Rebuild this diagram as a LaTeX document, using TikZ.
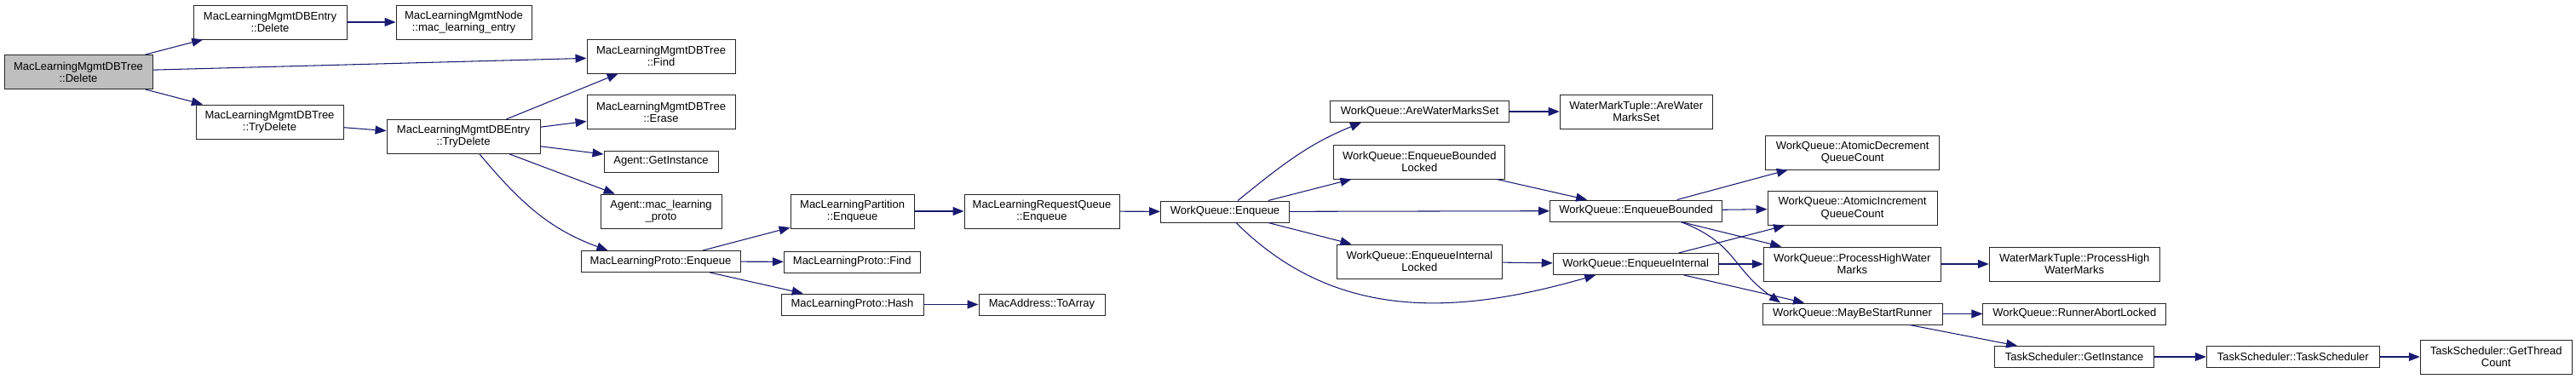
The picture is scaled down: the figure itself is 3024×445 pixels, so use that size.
\documentclass[tikz,border=0pt]{standalone}
\usepackage{fontspec}
\setmainfont{Liberation Sans}
\usepackage{xcolor}
\usepackage{tikz}
\usetikzlibrary{arrows.meta,calc}
\definecolor{dxblue}{HTML}{191970}
\definecolor{dxgrey}{HTML}{BFBFBF}
\tikzset{
  fn/.style={draw=black!85,line width=0.55pt,fill=white,align=center,inner sep=1pt,
            minimum height=0.5cm,font=\fontsize{7.4}{8}\selectfont},
  fn2/.style={fn,minimum height=0.8cm},
  fnroot/.style={fn2,fill=dxgrey},
  wd/.style={minimum width=#1*0.02cm},
  call/.style={-{Triangle[length=0.26cm,width=0.2cm]},line width=0.6pt,dxblue},
}

\begin{document}
\begin{tikzpicture}[x=0.02cm,y=-0.02cm]
  \useasboundingbox (0,0) rectangle (3024,445);
  \node[fnroot,wd=174] (root) at (92,84.5) {MacLearningMgmtDBTree\\::Delete};
  \node[fn2,wd=180] (entdel) at (317,26) {MacLearningMgmtDBEntry\\::Delete};
  \node[fn2,wd=173] (trydel) at (316.5,143) {MacLearningMgmtDBTree\\::TryDelete};
  \node[fn2,wd=159] (nodeentry) at (544.5,26) {MacLearningMgmtNode\\::mac\_learning\_entry};
  \node[fn2,wd=180] (entrytry) at (544,160.5) {MacLearningMgmtDBEntry\\::TryDelete};
  \node[fn2,wd=174] (treefind) at (776,66) {MacLearningMgmtDBTree\\::Find};
  \node[fn2,wd=174] (treeerase) at (776,131.5) {MacLearningMgmtDBTree\\::Erase};
  \node[fn,wd=134] (agentinst) at (776,189.5) {Agent::GetInstance};
  \node[fn2,wd=142] (agentproto) at (776,248) {Agent::mac\_learning\\\_proto};
  \node[fn,wd=187] (protoenq) at (775.5,307) {MacLearningProto::Enqueue};
  \node[fn2,wd=145] (partenq) at (1000.6,248) {MacLearningPartition\\::Enqueue};
  \node[fn,wd=160] (protofind) at (1000.3,307.5) {MacLearningProto::Find};
  \node[fn,wd=167] (protohash) at (1000.5,357.5) {MacLearningProto::Hash};
  \node[fn2,wd=182] (reqenq) at (1223,248) {MacLearningRequestQueue\\::Enqueue};
  \node[fn,wd=148] (toarray) at (1223,357.5) {MacAddress::ToArray};
  \node[fn,wd=151] (wqenq) at (1438,248.5) {WorkQueue::Enqueue};
  \node[fn,wd=210] (wqarewm) at (1666.6,131) {WorkQueue::AreWaterMarksSet};
  \node[fn2,wd=201] (wqebl) at (1666.4,190) {WorkQueue::EnqueueBounded\\Locked};
  \node[fn2,wd=194] (wqeil) at (1666.4,307) {WorkQueue::EnqueueInternal\\Locked};
  \node[fn2,wd=179] (wmtare) at (1920.7,131) {WaterMarkTuple::AreWater\\MarksSet};
  \node[fn,wd=202] (wqeb) at (1920.5,247.5) {WorkQueue::EnqueueBounded};
  \node[fn,wd=194] (wqei) at (1920.2,310) {WorkQueue::EnqueueInternal};
  \node[fn2,wd=204] (wqadec) at (2174.7,179) {WorkQueue::AtomicDecrement\\QueueCount};
  \node[fn2,wd=199] (wqainc) at (2174.5,244.5) {WorkQueue::AtomicIncrement\\QueueCount};
  \node[fn2,wd=208] (wqphwm) at (2174.3,310) {WorkQueue::ProcessHighWater\\Marks};
  \node[fn,wd=211] (wqmsr) at (2174.5,368.5) {WorkQueue::MayBeStartRunner};
  \node[fn2,wd=200] (wmtphwm) at (2435.2,310) {WaterMarkTuple::ProcessHigh\\WaterMarks};
  \node[fn,wd=215] (wqral) at (2435.4,368.5) {WorkQueue::RunnerAbortLocked};
  \node[fn,wd=187] (tsinst) at (2435.1,419) {TaskScheduler::GetInstance};
  \node[fn,wd=203] (tsts) at (2691.8,419) {TaskScheduler::TaskScheduler};
  \node[fn2,wd=178] (tsgtc) at (2930.2,419) {TaskScheduler::GetThread\\Count};

  \draw[call] (root) -- (entdel);
  \draw[call] (root) -- (treefind);
  \draw[call] (root) -- (trydel);
  \draw[call] (entdel) -- (nodeentry);
  \draw[call] (trydel) -- (entrytry);
  \draw[call] (entrytry) -- (treefind);
  \draw[call] (entrytry) -- (treeerase);
  \draw[call] (entrytry) -- (agentinst);
  \draw[call] (entrytry) -- (agentproto);
  \draw[call] ($(entrytry.south)+(19,0)$) to[out=-50,in=160]
        ($(protoenq.north)+(-62,0)$);
  \draw[call] (protoenq) -- (partenq);
  \draw[call] (protoenq) -- (protofind);
  \draw[call] (protoenq) -- (protohash);
  \draw[call] (partenq) -- (reqenq);
  \draw[call] (reqenq) -- (wqenq);
  \draw[call] (protohash) -- (toarray);
  \draw[call] ($(wqenq.north)+(15,0)$) to[out=39,in=-158]
        ($(wqarewm.south)+(-68.6,0)$);
  \draw[call] (wqenq) -- (wqebl);
  \draw[call] (wqenq) -- (wqeb);
  \draw[call] (wqenq) -- (wqeil);
  \draw[call] ($(wqenq.south)+(13,0)$) to[out=-45,in=-164]
        ($(wqei.south)+(-47,0)$);
  \draw[call] (wqarewm) -- (wmtare);
  \draw[call] (wqebl) -- (wqeb);
  \draw[call] (wqeil) -- (wqei);
  \draw[call] (wqeb) -- (wqadec);
  \draw[call] (wqeb) -- (wqainc);
  \draw[call] (wqeb) -- (wqphwm);
  \draw[call] ($(wqeb.south)+(52.5,0)$) to[out=-21,in=145,looseness=1.2]
        ($(wqmsr.north)+(-84.5,0)$);
  \draw[call] (wqei) -- (wqainc);
  \draw[call] (wqei) -- (wqphwm);
  \draw[call] (wqei) -- (wqmsr);
  \draw[call] (wqphwm) -- (wmtphwm);
  \draw[call] (wqmsr) -- (wqral);
  \draw[call] (wqmsr) -- (tsinst);
  \draw[call] (tsinst) -- (tsts);
  \draw[call] (tsts) -- (tsgtc);
\end{tikzpicture}
\end{document}
